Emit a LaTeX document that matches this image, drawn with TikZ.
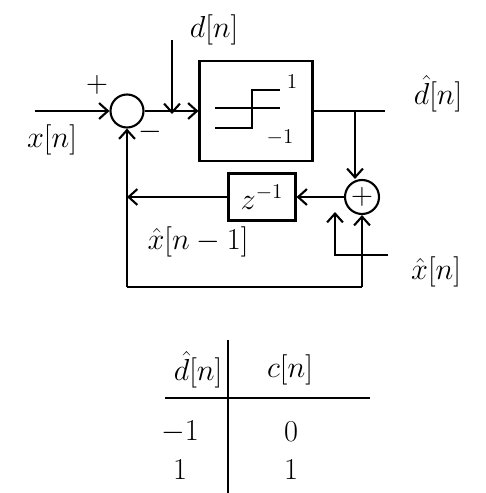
\documentclass[tikz,border=0pt]{standalone}
\usepackage{amsmath}
\usetikzlibrary{arrows.meta}
\usetikzlibrary{math}

\tikzset{
sumnode/.style={circle, draw, line width=1.2, inner sep=0pt},
blockbox/.style={rectangle, draw, line width=1.2, inner sep=0pt},
sig/.style={-{Straight Barb[length=5pt,width=9pt]}, line width=1.2},
wire/.style={line width=1.2}
}

\begin{document}
\begin{tikzpicture}[x=0.02cm, y=-0.02cm, font=\LARGE]
\tikzmath{
\xs=127; \ys=111;
\xq=256;
\xp=362; \yp=197;
\yb=287;
\xt=228; \yt=398;
}
\useasboundingbox (0,0) rectangle (486,493);

% forward path
\node[sumnode, minimum size=0.66cm] (sumA) at (\xs,\ys) {};
\node[blockbox, minimum width=2.26cm, minimum height=2cm] (quant) at (\xq,\ys) {};
\node[sumnode, minimum size=0.68cm] (sumB) at (\xp,\yp) {$+$};
\node[blockbox, minimum width=1.34cm, minimum height=0.94cm] (delay) at (262,\yp) {$z^{-1}$};

\coordinate (xin) at (35,\ys);
\coordinate (dtop) at (172,40);
\coordinate (dpt) at (172,\ys);
\coordinate (tap) at (355,\ys);
\coordinate (dout) at (385,\ys);
\coordinate (fbup) at (\xs,\yp);
\coordinate (fbdn) at (\xs,\yb);
\coordinate (fbr) at (\xp,\yb);
\coordinate (ptr) at (388,255);
\coordinate (ptrc) at (335,255);
\coordinate (ptrend) at (335,212);

\draw[sig] (xin) -- (sumA);
\draw[sig] (sumA) -- (quant);
\draw[sig] (dtop) -- ([yshift=-0.06cm]dpt);
\draw[wire] (quant.east |- dout) -- (dout);
\draw[sig] (tap) -- (tap |- sumB.north);
\draw[sig] (sumB) -- (delay);
\draw[sig] (delay) -- (fbup);
\draw[sig] (fbdn) -- (sumA);
\draw[wire] (fbdn) -- (fbr);
\draw[sig] (fbr) -- (sumB);
\draw[sig] (ptr) -- (ptrc) -- (ptrend);

% quantizer characteristic
\draw[wire] (215,108) -- (280,108);
\draw[wire] (215,128) -- (252,128) -- (252,90) -- (280,90);
\node[font=\large] (one) at (292,82) {$1$};
\node[font=\large] (mone) at (280,138) {$-1$};

% labels
\node (plus) at (97,85) {$+$};
\node (minus) at (150,132) {$-$};
\node (xlab) at (52,140) {$x[n]$};
\node (dlab) at (214,30) {$d[n]$};
\node (dhlab) at (438,94) {$\hat d[n]$};
\node (xmlab) at (198,242) {$\hat x[n-1]$};
\node (xhlab) at (436,272) {$\hat x[n]$};

% table
\draw[wire] (165,\yt) -- (370,\yt);
\draw[wire] (\xt,340) -- (\xt,493);
\node (thd) at (198,370) {$\hat d[n]$};
\node (thc) at (290,370) {$c[n]$};
\foreach \val/\code/\row in {-1/0/432, 1/1/470}{
\node at (180,\row) {$\val$};
\node at (291,\row) {$\code$};
}

\end{tikzpicture}
\end{document}
